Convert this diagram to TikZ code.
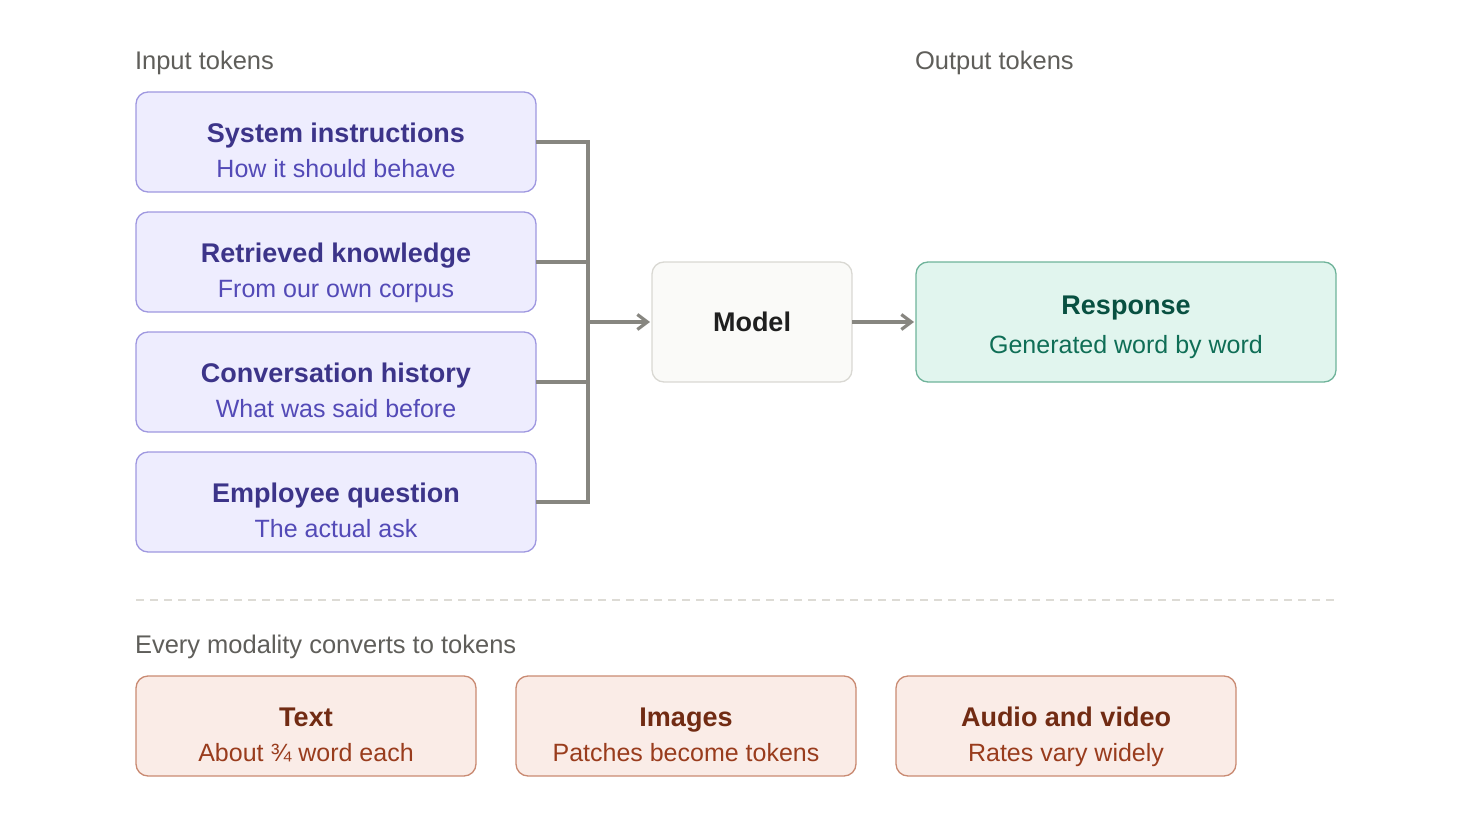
\documentclass[tikz,border=0pt]{standalone}
\usepackage{fontspec}
\setmainfont{Liberation Sans}
\usepackage{tikz}
\usetikzlibrary{arrows.meta,positioning}

\definecolor{InFill}{HTML}{EEEDFE}
\definecolor{InLine}{HTML}{9F98E0}
\definecolor{InTitle}{HTML}{3C3489}
\definecolor{InSub}{HTML}{534AB7}
\definecolor{ModFill}{HTML}{FAFAF8}
\definecolor{ModLine}{HTML}{D9D8D3}
\definecolor{OutFill}{HTML}{E1F5EE}
\definecolor{OutLine}{HTML}{6FB39A}
\definecolor{OutTitle}{HTML}{085041}
\definecolor{OutSub}{HTML}{0F6E56}
\definecolor{TokFill}{HTML}{FAECE7}
\definecolor{TokLine}{HTML}{C98A72}
\definecolor{TokTitle}{HTML}{712B13}
\definecolor{TokSub}{HTML}{993C1D}
\definecolor{Wire}{HTML}{878680}
\definecolor{Caption}{HTML}{5F5E5A}
\definecolor{Rule}{HTML}{DDDBD5}

% title line + subtitle line, struts keep the baselines steady
\newcommand{\pair}[4][45pt]{\rule{0pt}{#1}{\bfseries\fontsize{27}{27}\selectfont\color{#2}#3}\\#4\rule[-10pt]{0pt}{10pt}}

\begin{document}
\begin{tikzpicture}[
  x=1pt, y=-1pt,
  every node/.style={align=center, outer sep=0pt},
  caption/.style={anchor=base west, inner sep=0pt, text=Caption, font=\fontsize{25.5}{30}\selectfont},
  inbox/.style={rectangle, rounded corners=12pt, minimum width=400pt, minimum height=100pt, draw=InLine, fill=InFill, line width=1.3pt, text=InSub, font=\fontsize{25}{35}\selectfont},
  modelbox/.style={rectangle, rounded corners=12pt, minimum width=200pt, minimum height=120pt, draw=ModLine, fill=ModFill, line width=1.3pt, text=black!88, font=\bfseries\fontsize{27}{30}\selectfont},
  outbox/.style={rectangle, rounded corners=12pt, minimum width=420pt, minimum height=120pt, draw=OutLine, fill=OutFill, line width=1.3pt, text=OutSub, font=\fontsize{25}{39}\selectfont},
  tokbox/.style={rectangle, rounded corners=12pt, minimum width=340pt, minimum height=100pt, draw=TokLine, fill=TokFill, line width=1.3pt, text=TokSub, font=\fontsize{25}{35}\selectfont},
  wire/.style={draw=Wire, line width=3.2pt},
  arrow/.style={wire, -{Straight Barb[length=10pt, width=15pt]}, shorten >=2pt}
]
  \useasboundingbox (0,0) rectangle (1472,840);

  \node[caption] (inlab) at (135,70) {Input tokens};
  \node[caption] (outlab) at (915,70) {Output tokens};

  \node[inbox] (sys) at (336,142) {\pair{InTitle}{System instructions}{How it should behave}};
  \node[inbox, below=20pt of sys] (ret) {\pair{InTitle}{Retrieved knowledge}{From our own corpus}};
  \node[inbox, below=20pt of ret] (conv) {\pair{InTitle}{Conversation history}{What was said before}};
  \node[inbox, below=20pt of conv] (emp) {\pair{InTitle}{Employee question}{The actual ask}};

  \node[modelbox] (model) at (752,322) {Model};
  \node[outbox, right=64pt of model] (resp) {\pair[33pt]{OutTitle}{Response}{Generated word by word}};

  \coordinate (join) at (588,322);
  \draw[wire] (sys) -| (join);
  \draw[wire] (ret) -| (join);
  \draw[wire] (conv) -| (join);
  \draw[wire] (emp) -| (join);
  \draw[arrow] (join) -- (model);
  \draw[arrow] (model) -- (resp);

  \coordinate (ruleL) at (136,600);
  \coordinate (ruleR) at (1336,600);
  \draw[Rule, line width=1.3pt, dash pattern=on 8pt off 6pt] (ruleL) -- (ruleR);

  \node[caption] (modlab) at (135,653) {Every modality converts to tokens};

  \node[tokbox] (txt) at (306,726) {\pair{TokTitle}{Text}{About ¾ word each}};
  \node[tokbox, right=40pt of txt] (img) {\pair{TokTitle}{Images}{Patches become tokens}};
  \node[tokbox, right=40pt of img] (av) {\pair{TokTitle}{Audio and video}{Rates vary widely}};
\end{tikzpicture}
\end{document}
